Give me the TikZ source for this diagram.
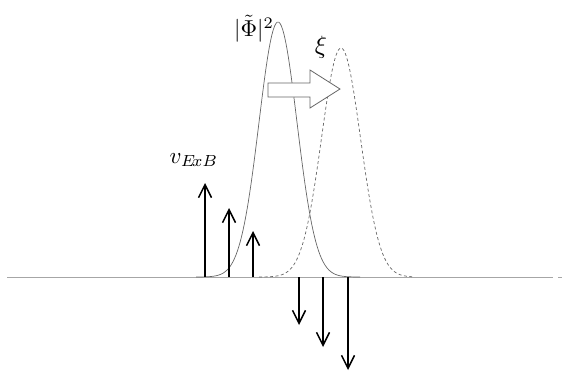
\documentclass[tikz,border=0pt]{standalone}
\usepackage{fontspec}
\setmainfont{Liberation Serif}
\usetikzlibrary{arrows.meta}

\begin{document}
\begin{tikzpicture}[
x=1pt, y=-1pt,
axis/.style={draw=gray!70, line width=0.8pt},
mode/.style={draw=gray!80!black, line width=0.7pt},
shifted/.style={mode, dash pattern=on 3pt off 2.5pt},
vel/.style={line width=1.5pt, -{Straight Barb[length=13pt, width=13pt, line width=1.5pt]}},
blockarrow/.style={draw=gray!80!black, fill=white, line width=0.8pt},
lbl/.style={inner sep=0pt}
]
\useasboundingbox (0,0) rectangle (564,373);

% baseline
\draw[axis] (7,277) -- (553,277);
\draw[axis] (558,277) -- (562,277);

% eigenmode envelopes
\draw[mode] plot[domain=196:360, samples=120] (\x, {277-255*exp(-((\x-278)^2)/(2*19^2))});
\draw[shifted] plot[domain=259:412, samples=120] (\x, {277-229*exp(-((\x-341)^2)/(2*19.5^2))});

% shift of the mode
\draw[blockarrow] (268,83) -- (310,83) -- (310,70) -- (340,89) -- (310,108) -- (310,97) -- (268,97) -- cycle;

% ExB velocity
\foreach \px/\py in {205/183, 229/208, 253/231, 299/325, 323/347, 348/370}
  \draw[vel] (\px,277) -- (\px,\py);

% labels
\node[lbl] (phi) at (254,29) {\scalebox{2.3}{$|\tilde{\Phi}|^2$}};
\node[lbl] (xi) at (321,47) {\scalebox{2.5}{$\xi$}};
\node[lbl] (vexb) at (194,160) {\scalebox{2.3}{$v_{E\!xB}$}};
\end{tikzpicture}
\end{document}
